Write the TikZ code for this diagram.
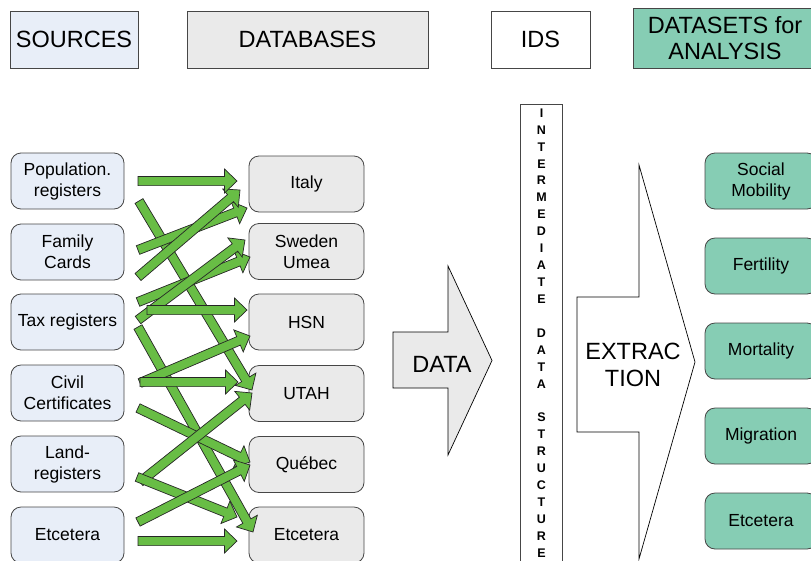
\documentclass[tikz,border=0pt]{standalone}
\usepackage{fontspec}
\setmainfont{Liberation Sans}
\usetikzlibrary{calc}
\definecolor{srcfill}{RGB}{232,238,248}
\definecolor{dbfill}{RGB}{234,234,234}
\definecolor{dsfill}{RGB}{134,205,180}
\definecolor{garrow}{RGB}{104,189,69}
\definecolor{edge}{RGB}{70,70,70}
\tikzset{
  hdr/.style={draw=edge, line width=0.8pt, minimum height=57pt, inner sep=0pt, align=center,
    font=\fontsize{23.5}{26.5}\selectfont},
  box/.style={draw=edge, line width=0.8pt, rounded corners=10pt, minimum height=56pt, inner sep=0pt,
    align=center, font=\fontsize{17.5}{21}\selectfont},
  srcbox/.style={box, fill=srcfill, minimum width=113pt},
  dbbox/.style={box, fill=dbfill, minimum width=115pt},
  dsbox/.style={box, fill=dsfill, minimum width=112pt},
  garrowstyle/.style={fill=garrow, draw=black!85, line width=0.7pt, line join=miter},
  bigarrow/.style={draw=black, line width=0.7pt},
  bigtext/.style={align=center, inner sep=0pt, font=\fontsize{23.5}{27.5}\selectfont},
  idsletter/.style={inner sep=0pt, font=\fontsize{12.5}{12.5}\bfseries\selectfont},
}
\newcommand\garrow[2]{%
  \coordinate (hb) at ($(#2)!12.5pt!(#1)$);
  \filldraw[garrowstyle] ($(#1)!4.6pt!90:(#2)$) -- ($(hb)!4.6pt!90:(#2)$) -- ($(hb)!12pt!90:(#2)$)
    -- (#2) -- ($(hb)!12pt!-90:(#2)$) -- ($(hb)!4.6pt!-90:(#2)$) -- ($(#1)!4.6pt!-90:(#2)$) -- cycle;
}
\begin{document}
\begin{tikzpicture}[x=1pt,y=-1pt]
\useasboundingbox (0,0) rectangle (811,560);
\clip (0,0) rectangle (811,560);

% headers
\node[hdr, fill=srcfill, minimum width=128pt] (hsrc) at (74,39.5) {SOURCES};
\node[hdr, fill=dbfill, minimum width=241pt] (hdb) at (307.5,39.5) {DATABASES};
\node[hdr, fill=white, minimum width=99pt] (hids) at (540.5,39.5) {IDS};
\node[hdr, fill=dsfill, minimum width=184pt, minimum height=60pt] (hds) at (725,38) {DATASETS for\\ANALYSIS};

% sources
\node[srcbox] (pop) at (67.5,181) {Population.\\registers};
\node[srcbox] (fam) at (67.5,252) {Family\\Cards};
\node[srcbox] (tax) at (67.5,322) {Tax registers};
\node[srcbox] (civ) at (67.5,393) {Civil\\Certificates};
\node[srcbox] (land) at (67.5,464) {Land-\\registers};
\node[srcbox] (setc) at (67.5,535) {Etcetera};

% databases
\node[dbbox] (ita) at (306.5,184) {Italy};
\node[dbbox] (swe) at (306.5,251.5) {Sweden\\Umea};
\node[dbbox] (hsn) at (306.5,322) {HSN};
\node[dbbox] (uta) at (306.5,393.5) {UTAH};
\node[dbbox] (que) at (306.5,464.5) {Québec};
\node[dbbox] (detc) at (306.5,535) {Etcetera};

% arrow end points
\coordinate (a1t) at (138,181);  \coordinate (a1h) at (237,181);
\coordinate (a2t) at (139,201);  \coordinate (a2h) at (252,390);
\coordinate (a3t) at (138,250);  \coordinate (a3h) at (247,208);
\coordinate (a4t) at (138,277);  \coordinate (a4h) at (240,190);
\coordinate (a5t) at (138,302);  \coordinate (a5h) at (250,257);
\coordinate (a6t) at (138,320);  \coordinate (a6h) at (245,240);
\coordinate (a7t) at (147,310);  \coordinate (a7h) at (247,310);
\coordinate (a8t) at (138,327);  \coordinate (a8h) at (253,532);
\coordinate (a9t) at (140,383);  \coordinate (a9h) at (250,336);
\coordinate (a10t) at (140,382); \coordinate (a10h) at (238,382);
\coordinate (a11t) at (138,408); \coordinate (a11h) at (250,462);
\coordinate (a12t) at (140,482); \coordinate (a12h) at (252,393);
\coordinate (a13t) at (137,477); \coordinate (a13h) at (237,517);
\coordinate (a14t) at (138,522); \coordinate (a14h) at (250,465);
\coordinate (a15t) at (138,541); \coordinate (a15h) at (237,541);

\garrow{a2t}{a2h}
\garrow{a8t}{a8h}
\garrow{a3t}{a3h}
\garrow{a4t}{a4h}
\garrow{a5t}{a5h}
\garrow{a6t}{a6h}
\garrow{a9t}{a9h}
\garrow{a11t}{a11h}
\garrow{a12t}{a12h}
\garrow{a13t}{a13h}
\garrow{a14t}{a14h}
\garrow{a1t}{a1h}
\garrow{a7t}{a7h}
\garrow{a10t}{a10h}
\garrow{a15t}{a15h}

% DATA arrow
\draw[bigarrow, fill=dbfill] (393,332) -- (448,332) -- (448,266) -- (492,360.5) -- (448,455) -- (448,388) -- (393,388) -- cycle;
\node[bigtext] (datatxt) at (442,364) {DATA};

% IDS column
\node[draw=edge, line width=0.8pt, fill=white, minimum width=42pt, minimum height=470pt, anchor=north west, inner sep=0pt] (ids) at (520,104) {};
\foreach \l [count=\i from 0] in {I,N,T,E,R,M,E,D,I,A,T,E,{},D,A,T,A,{},S,T,R,U,C,T,U,R,E}
  \node[idsletter] (L\i) at (541.5,113+16.92*\i) {\l};

% EXTRACTION arrow
\draw[bigarrow, fill=white] (577,297) -- (639,297) -- (639,165) -- (695,362) -- (639,559) -- (639,432) -- (577,432) -- cycle;
\node[bigtext] (extxt) at (633,365) {EXTRAC\\TION};

% datasets
\node[dsbox] (soc) at (761,181) {Social\\Mobility};
\node[dsbox] (fer) at (761,266) {Fertility};
\node[dsbox] (mor) at (761,351) {Mortality};
\node[dsbox] (mig) at (761,436) {Migration};
\node[dsbox] (detc2) at (761,521) {Etcetera};
\end{tikzpicture}
\end{document}
